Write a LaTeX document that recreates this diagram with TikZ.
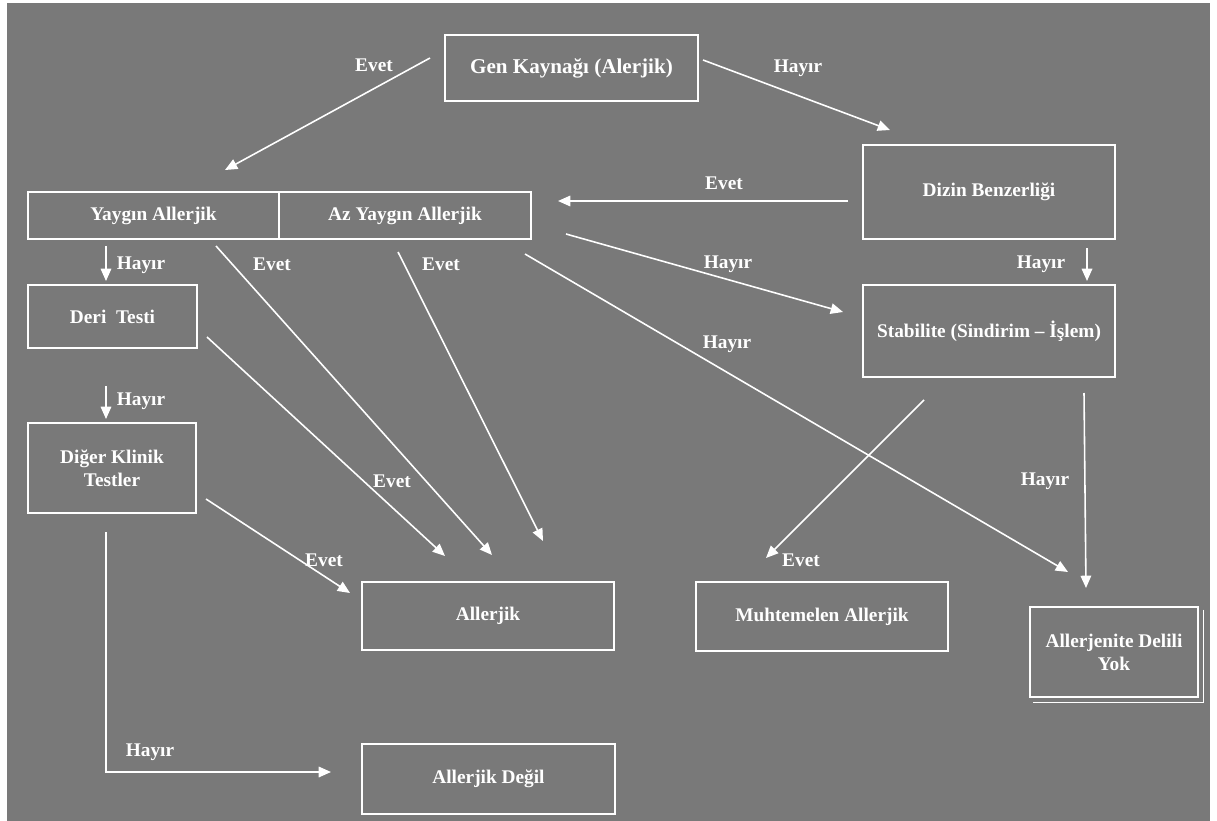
\documentclass[tikz,border=0pt]{standalone}
\usepackage{fontspec}
\setmainfont{Liberation Serif}
\usetikzlibrary{arrows.meta,calc}
\definecolor{bggray}{RGB}{121,121,121}

\begin{document}
\begin{tikzpicture}[x=0.02cm,y=-0.02cm,
    box/.style={draw=white,line width=1.5pt,text=white,align=center,inner sep=2pt,
      font=\bfseries\fontsize{11}{13}\selectfont},
    lbl/.style={text=white,inner sep=1pt,font=\bfseries\fontsize{11}{13}\selectfont},
    arr/.style={white,line width=0.9pt,-{Triangle[length=7pt,width=6pt]}}]

          \fill[white] (0,0) rectangle (1217,821);
          \fill[bggray] (7,3) rectangle (1210,821);
          \useasboundingbox (0,0) rectangle (1217,821);

          \node[box,minimum width=5.06cm,minimum height=1.32cm,
            font=\bfseries\fontsize{12}{14}\selectfont] (gen) at (571.5,68) {Gen Kaynağı (Alerjik)};
          \node[box,minimum width=5.02cm,minimum height=0.94cm] (yaygin) at (153.5,215.5) {Yaygın Allerjik};
          \node[box,minimum width=5.04cm,minimum height=0.94cm] (azyaygin) at (405,215.5) {Az Yaygın Allerjik};
          \node[box,minimum width=5.04cm,minimum height=1.88cm] (dizin) at (989,192) {Dizin Benzerliği};
          \node[box,minimum width=5.04cm,minimum height=1.84cm] (stab) at (989,331) {Stabilite (Sindirim -- İşlem)};
          \node[box,minimum width=3.38cm,minimum height=1.26cm] (deri) at (112.5,316.5) {Deri\ \ Testi};
          \node[box,minimum width=3.36cm,minimum height=1.8cm] (diger) at (112,468) {Diğer Klinik\\Testler};
          \node[box,minimum width=5.04cm,minimum height=1.36cm] (allerjik) at (488,616) {Allerjik};
          \node[box,minimum width=5.04cm,minimum height=1.38cm] (muht) at (822,616.5) {Muhtemelen Allerjik};
          \node[box,minimum width=3.36cm,minimum height=1.8cm] (delil) at (1114,652) {Allerjenite Delili\\Yok};
          \node[box,minimum width=5.06cm,minimum height=1.4cm] (degil) at (488.5,779) {Allerjik Değil};

          \draw[white,line width=0.8pt] ($(delil.north east)+(4,4)$) |- ($(delil.south west)+(4,4)$);

          \coordinate (g1) at (430,58);   \coordinate (g2) at (225,170);
          \coordinate (g3) at (703,60);   \coordinate (g4) at (890,130);
          \coordinate (d1) at (848,201);  \coordinate (d2) at (558,201);
          \coordinate (d3) at (1087,248); \coordinate (d4) at (1087,281);
          \coordinate (a1) at (566,234);  \coordinate (a2) at (843,312);
          \coordinate (y1) at (106,246);  \coordinate (y2) at (106,281);
          \coordinate (t1) at (106,386);  \coordinate (t2) at (106,419);
          \coordinate (y3) at (216,246);  \coordinate (y4) at (492,555);
          \coordinate (a3) at (398,252);  \coordinate (a4) at (543,541);
          \coordinate (t3) at (207,337);  \coordinate (t4) at (445,556);
          \coordinate (k1) at (206,499);  \coordinate (k2) at (350,593);
          \coordinate (a5) at (525,254);  \coordinate (a6) at (1068,572);
          \coordinate (s1) at (924,400);  \coordinate (s2) at (766,558);
          \coordinate (s3) at (1084,393); \coordinate (s4) at (1086,588);
          \coordinate (k3) at (106,532);  \coordinate (k4) at (331,772);

          \draw[arr] (g1) -- (g2);
          \draw[arr] (g3) -- (g4);
          \draw[arr] (d1) -- (d2);
          \draw[arr] (d3) -- (d4);
          \draw[arr] (a1) -- (a2);
          \draw[arr] (y1) -- (y2);
          \draw[arr] (t1) -- (t2);
          \draw[arr] (y3) -- (y4);
          \draw[arr] (a3) -- (a4);
          \draw[arr] (t3) -- (t4);
          \draw[arr] (k1) -- (k2);
          \draw[arr] (a5) -- (a6);
          \draw[arr] (s1) -- (s2);
          \draw[arr] (s3) -- (s4);
          \draw[arr] (k3) |- (k4);

          \node[lbl] (l1) at (374,65) {Evet};
          \node[lbl] (l2) at (798,68) {Hayır};
          \node[lbl] (l3) at (724,183) {Evet};
          \node[lbl] (l4) at (1041,264) {Hayır};
          \node[lbl] (l5) at (728,264) {Hayır};
          \node[lbl] (l6) at (141,265) {Hayır};
          \node[lbl] (l7) at (272,264) {Evet};
          \node[lbl] (l8) at (441,264) {Evet};
          \node[lbl] (l9) at (141,401) {Hayır};
          \node[lbl] (l10) at (727,344) {Hayır};
          \node[lbl] (l11) at (392,481) {Evet};
          \node[lbl] (l12) at (1045,481) {Hayır};
          \node[lbl] (l13) at (324,560) {Evet};
          \node[lbl] (l14) at (801,560) {Evet};
          \node[lbl] (l15) at (150,752) {Hayır};
        \end{tikzpicture}
\end{document}
